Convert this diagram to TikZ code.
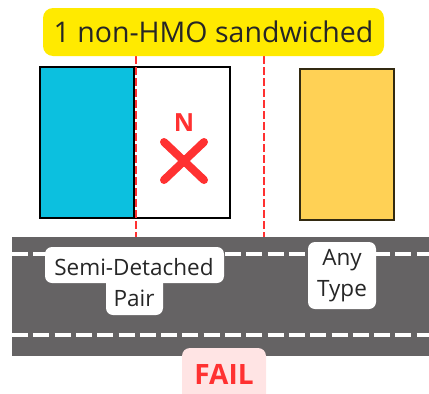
\documentclass[tikz,border=0pt]{standalone}
\usepackage{fontspec}
\setmainfont{Open Sans}
\definecolor{hmoblue}{HTML}{0CC0DF}
\definecolor{housey}{HTML}{FFD155}
\definecolor{labely}{HTML}{FFEA00}
\definecolor{roadgray}{HTML}{656364}
\definecolor{failred}{HTML}{FF3131}
\definecolor{failpink}{HTML}{FFE4E4}
\tikzset{
  house/.style={draw=black, line width=2pt},
  splitline/.style={draw=failred, line width=1.6pt, dash pattern=on 8pt off 3pt},
  lane/.style={draw=white, line width=4pt, dash pattern=on 16pt off 5.3pt},
  tag/.style={fill=white, rounded corners=7pt},
  tagtext/.style={font=\fontsize{22.5}{26}\selectfont, text=black!85, inner sep=0pt},
}
\begin{document}
\begin{tikzpicture}[x=1pt,y=-1pt]
\useasboundingbox (0,0) rectangle (429,394);
% road
\fill[roadgray] (12,237) rectangle (429,356);
\coordinate (l1a) at (12,254); \coordinate (l1b) at (429,254);
\coordinate (l2a) at (12,335); \coordinate (l2b) at (429,335);
\draw[lane] (l1a) -- (l1b);
\draw[lane] (l2a) -- (l2b);
% houses
\node[house, fill=hmoblue, minimum width=94pt, minimum height=151pt, inner sep=0pt, anchor=north west] (blue) at (39,66) {};
\node[house, fill=white, minimum width=96pt, minimum height=151pt, inner sep=0pt, anchor=north west] (white) at (133,66) {};
\node[house, fill=housey, draw=black!80!housey, minimum width=94pt, minimum height=151pt, inner sep=0pt, anchor=north west] (yellow) at (299,68) {};
% split lines
\coordinate (s1a) at (136,56); \coordinate (s1b) at (136,237);
\coordinate (s2a) at (264,56); \coordinate (s2b) at (264,237);
\draw[splitline] (s1a) -- (s1b);
\draw[splitline] (s2a) -- (s2b);
% N and cross
\node[font=\bfseries\fontsize{25}{30}\selectfont, text=failred, inner sep=0pt] (n) at (184,123) {N};
\coordinate (xa) at (164,142); \coordinate (xb) at (204,180);
\coordinate (xc) at (204,142); \coordinate (xd) at (164,180);
\draw[failred, line width=8pt, line cap=round] (xa) -- (xb);
\draw[failred, line width=8pt, line cap=round] (xc) -- (xd);
% title
\fill[labely, rounded corners=10pt] (43,8) rectangle (384,56);
\node[font=\fontsize{28.5}{33}\selectfont, text=black!85, inner sep=0pt] (title) at (213.5,32) {1 non-HMO sandwiched};
% semi-detached tag
\fill[tag] (45,247) rectangle (224,283);
\fill[tag] (106,270) rectangle (163,315);
\node[tagtext] (semi) at (134,267) {Semi-Detached};
\node[tagtext] (pair) at (134,298) {Pair};
% any type tag
\fill[tag] (308,242) rectangle (376,309);
\node[tagtext] (any) at (342,260) {Any};
\node[tagtext] (type) at (342,291) {Type};
% fail
\fill[failpink, rounded corners=8pt] (182,348) rectangle (266,402);
\node[font=\bfseries\fontsize{28}{32}\selectfont, text=failred, inner sep=0pt] (fail) at (224,374) {FAIL};
\end{tikzpicture}
\end{document}
